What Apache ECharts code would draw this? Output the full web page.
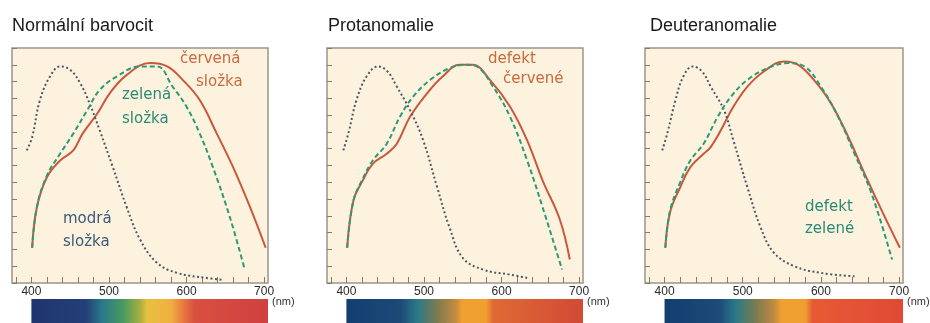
<!DOCTYPE html>
<html><head><meta charset="utf-8">
<script src="https://cdn.jsdelivr.net/npm/echarts@6/dist/echarts.min.js"></script>
<style>html,body{margin:0;padding:0;background:#fff}#c{width:930px;height:323px}</style>
</head><body><div id="c"></div>
<script>
// ---- data (wavelength nm, relative sensitivity on a 0..14 scale) ----
const panelTitles = ["Normální barvocit", "Protanomalie", "Deuteranomalie"];
const xTickLabels = [400, 500, 600, 700];
const xMinorTicks = [380,400,420,440,460,480,500,520,540,560,580,600,620,640,660,680,700];

const normalBlue  = [[394,7.9],[401,8.7],[411,10.9],[424,12.3],[437,12.9],[450,12.7],[463,11.9],[475,10.7],[488,9.1],[505,6.9],[523,4.5],[540,2.6],[562,1.2],[588,0.6],[626,0.3],[645,0.2]];
const normalRed   = [[401,2.1],[407,4.5],[420,6.3],[437,7.3],[454,7.9],[466,8.9],[485,10.1],[501,11.3],[523,12.4],[553,13.1],[575,12.9],[595,12.1],[617,10.9],[639,8.9],[660,6.9],[682,4.5],[702,2.1]];
const normalGreen = [[401,2.1],[407,4.5],[420,6.4],[437,7.7],[454,8.9],[472,10.3],[488,11.5],[510,12.3],[540,12.9],[562,12.9],[582,11.7],[600,10.5],[617,8.9],[634,6.9],[656,3.9],[675,0.8]];

const protanBlue  = [[396,7.9],[403,9.0],[413,10.9],[426,12.3],[441,12.9],[453,12.6],[465,11.7],[482,10.3],[499,8.5],[517,5.7],[533,3.3],[550,1.5],[576,0.8],[611,0.5],[633,0.3]];
const protanRed   = [[401,2.1],[409,4.9],[421,6.1],[434,7.1],[452,7.7],[465,8.3],[482,9.9],[504,11.3],[524,12.3],[546,13],[563,13],[585,12.1],[611,10.5],[633,8.5],[653,6.1],[675,3.8],[688,1.4]];
const protanGreen = [[401,2.1],[409,4.9],[421,6.2],[434,7.3],[452,8.3],[469,9.9],[486,11.1],[508,12.1],[533,12.8],[555,13],[568,12.9],[589,11.7],[611,9.9],[633,7.3],[653,4.5],[678,0.8]];

const deuterBlue  = [[397,7.9],[404,9.0],[414,10.9],[424,12.3],[436,12.9],[448,12.6],[459,11.7],[476,10.3],[488,8.5],[506,5.7],[523,3.3],[540,1.8],[566,1.0],[600,0.6],[643,0.4]];
const deuterRed   = [[401,2.1],[407,4.2],[420,5.7],[433,6.9],[450,7.7],[459,8.1],[472,9.1],[488,10.5],[506,11.7],[527,12.6],[553,13.2],[571,13],[591,12.1],[613,10.7],[635,8.7],[656,6.5],[678,4.3],[701,2.1]];
const deuterGreen = [[401,2.1],[407,4.3],[420,6.0],[433,7.3],[450,8.3],[468,9.9],[485,11.1],[506,12.1],[532,12.8],[558,13.1],[579,12.9],[600,11.7],[622,9.9],[643,7.7],[665,5.3],[691,1.4]];

const spectrumRange = [400, 705];
// ---- layout ----
const panels = [
  {left:12,  width:256, blue:normalBlue, red:normalRed, green:normalGreen, titleX:7,
   spec:[[0,'#1f3570'],[0.23,'#243f78'],[0.3,'#2a7a8a'],[0.39,'#4a9a60'],[0.46,'#a8b040'],[0.49,'#e8c040'],[0.59,'#f0b040'],[0.64,'#e87a40'],[0.69,'#d85040'],[1,'#d04040']]},
  {left:327, width:256, blue:protanBlue, red:protanRed, green:protanGreen, titleX:323,
   spec:[[0,'#123e70'],[0.23,'#1e4a78'],[0.3,'#2a7a88'],[0.38,'#7a7a50'],[0.46,'#c08a40'],[0.49,'#f0a030'],[0.59,'#f0a030'],[0.62,'#e06a35'],[1,'#d04a35']]},
  {left:645, width:258, blue:deuterBlue, red:deuterRed, green:deuterGreen, titleX:645,
   spec:[[0,'#123e70'],[0.23,'#1e4a78'],[0.3,'#2a7a88'],[0.38,'#7a7a50'],[0.46,'#c08a40'],[0.49,'#f0a030'],[0.59,'#f0a030'],[0.62,'#e85a35'],[1,'#e04a35']]}
];
const PLOT_TOP = 48, PLOT_H = 235, BAR_TOP = 299, BAR_H = 24;

const grid = [], xAxis = [], yAxis = [], series = [], title = [], graphic = [];
panels.forEach((p, i) => {
  grid.push({left:p.left, top:PLOT_TOP, width:p.width, height:PLOT_H, show:true,
             backgroundColor:'#fdf2dd', borderColor:'#9c978a', borderWidth:1.5});
  grid.push({left:p.left, top:BAR_TOP, width:p.width, height:BAR_H, show:false});
  xAxis.push({type:'value', gridIndex:2*i, min:375, max:705,
    axisLine:{show:false},
    splitLine:{show:false},
    axisTick:{show:true, inside:true, length:6, customValues:xMinorTicks, lineStyle:{color:'#7f7c72', width:1}},
    axisLabel:{show:true, customValues:xTickLabels, color:'#2a2a2a', fontSize:12, fontFamily:'Liberation Sans', margin:3}
  });
  xAxis.push({type:'value', gridIndex:2*i+1, min:375, max:705, show:false});
  yAxis.push({type:'value', gridIndex:2*i, min:0, max:14, interval:1,
    axisLine:{show:false}, splitLine:{show:false}, axisLabel:{show:false},
    axisTick:{show:true, inside:true, length:5, lineStyle:{color:'#7f7c72', width:1}}
  });
  yAxis.push({type:'value', gridIndex:2*i+1, min:0, max:1, show:false});
  series.push({type:'line', xAxisIndex:2*i, yAxisIndex:2*i, data:p.blue, smooth:0.4, symbol:'none',
    lineStyle:{color:'#4d5866', width:2, type:[2,2.5]}, z:3});
  series.push({type:'line', xAxisIndex:2*i, yAxisIndex:2*i, data:p.green, smooth:0.4, symbol:'none',
    lineStyle:{color:'#2b9a76', width:2, type:[5,3]}, z:4});
  series.push({type:'line', xAxisIndex:2*i, yAxisIndex:2*i, data:p.red, smooth:0.4, symbol:'none',
    lineStyle:{color:'#c8583c', width:2}, z:2});
  series.push({type:'line', xAxisIndex:2*i+1, yAxisIndex:2*i+1, data:[], silent:true,
    markArea:{silent:true, data:[[{xAxis:spectrumRange[0]},{xAxis:spectrumRange[1]}]],
      itemStyle:{color:new echarts.graphic.LinearGradient(0,0,1,0, p.spec.map(s=>({offset:s[0], color:s[1]}))), opacity:1}}});
  title.push({text:panelTitles[i], left:p.titleX, top:12,
    textStyle:{fontFamily:'Liberation Sans', fontSize:18, fontWeight:'normal', color:'#1a1a1a'}});
  graphic.push({type:'text', left:p.left + p.width + 4, top:296,
    style:{text:'(nm)', font:'11px "Liberation Sans"', fill:'#333'}});
});

const ann = (text, x, y, color) => ({type:'text', left:x, top:y,
  style:{text, font:'15px "DejaVu Sans"', fill:color}});
const RED_T = '#c8693f', GREEN_T = '#2a8a78', BLUE_T = '#3b5a7c';
graphic.push(
  ann('červená', 180, 52, RED_T), ann('složka', 196, 75, RED_T),
  ann('zelená', 122, 88, GREEN_T), ann('složka', 122, 112, GREEN_T),
  ann('modrá', 63, 212, BLUE_T), ann('složka', 63, 235, BLUE_T),
  ann('defekt', 488, 52, RED_T), ann('červené', 503, 72, RED_T),
  ann('defekt', 805, 200, GREEN_T), ann('zelené', 805, 222, GREEN_T)
);

const chart = echarts.init(document.getElementById('c'), null, {renderer:'canvas'});
chart.setOption({animation:false, backgroundColor:'#ffffff', title, grid, xAxis, yAxis, series, graphic});
</script></body></html>
